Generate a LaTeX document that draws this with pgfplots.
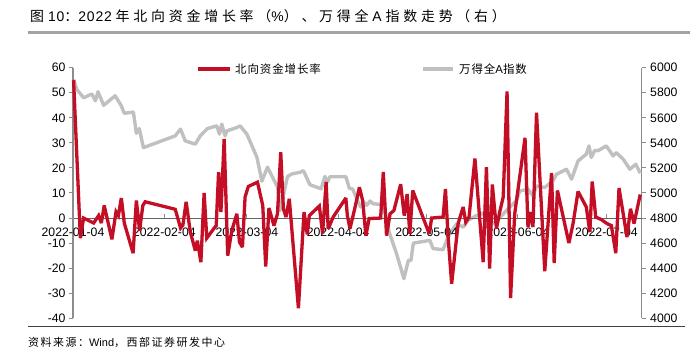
\documentclass[border=0pt]{standalone}
\usepackage{fontspec}
\setmainfont{Liberation Sans}
\newfontfamily\cjk{Noto Sans CJK SC}
\newfontfamily\cjkS[LetterSpace=8]{Noto Sans CJK SC}
\newfontfamily\cjkT[LetterSpace=27]{Noto Sans CJK SC}
\newfontfamily\cjkB[LetterSpace=14]{Noto Sans CJK SC}
\newfontfamily\latS[LetterSpace=6]{Liberation Sans}
\usepackage{pgfplots}
\pgfplotsset{compat=1.18}
\definecolor{nred}{RGB}{196,14,38}
\definecolor{ngrey}{RGB}{192,192,192}
\definecolor{axgrey}{RGB}{140,140,140}
\definecolor{zgrey}{RGB}{100,100,100}

\pgfplotstableread{
d v
0.2 55
2.5 -8
3.6 0
7.0 -2
8.7 1
9.6 -2
10.6 5
13.2 -8.5
14.6 2.5
15.4 1
16.4 8
17.4 -2
20.4 -14
21.5 7
22.6 -5
23.7 5
24.5 6.5
34.7 3.5
36.5 -4
37.3 -2.8
38.4 6.5
39.8 -5.5
41.5 -13
42.2 -9
43.4 -17.6
44.5 10
45.4 -8
47.6 -4.5
48.6 -3
49.4 18.3
50.2 2.4
51.3 31.6
52.5 -15
53.9 -5
55.6 1.7
56.5 -9.6
57.5 -11.6
58.4 8.4
59.5 12.6
62.6 14.3
64.4 5
65.4 -19.3
66.5 4
68.2 -3
69.4 1.7
70.5 26.3
71.4 3.7
72.3 0.4
73.4 7.7
76.5 -36
78.4 2.4
79.5 -6.5
80.2 1
83.6 4.8
84.7 -6.2
85.9 14.4
86.6 -4.3
88.3 0.4
92.6 8
93.1 1
94.0 -4.2
95.7 4.2
97.2 12.3
98.3 7
99.4 -7
100.5 -0.2
104.4 0
105.3 18.4
106.4 -7
107.6 1.7
108.9 3
111.2 13.5
112.4 1
113.4 9.6
114.3 -6.3
115.3 11
120.9 -6.3
121.7 0
125.6 0.4
126.4 11.6
127.3 -7.6
128.5 -26.2
130.7 -2.2
132.4 4.4
133.3 -1.6
134.4 0.4
136.4 23.8
137.8 3
139.2 -17.6
140.3 20.3
141.4 -20.2
142.3 13.4
143.7 -4.2
144.8 2.4
146.0 8.4
147.3 50.5
148.5 -31.9
149.9 1.7
153.4 32
154.4 -3.6
155.4 2.4
156.1 -3.6
157.3 42
160.1 -21.2
162.4 18
163.3 -18
164.4 11
168.3 -10
169.7 -2.2
171.4 10.6
174.2 4.4
175.4 -5.6
176.2 14.6
177.4 0.4
179.3 -0.6
181.2 -2.2
182.7 -3
184.2 -14
185.3 12
188.0 -7.6
189.2 3.7
190.4 -2.2
192.5 9.4
}\northbound

\pgfplotstableread{
d idx
0.2 5906
1.3 5826
3.6 5760
6.4 5790
7.6 5736
8.5 5808
10.4 5700
14.3 5776
16.3 5700
17.4 5636
20.5 5646
21.5 5476
22.5 5514
23.9 5362
34.7 5456
36.5 5510
38.1 5416
41.5 5390
43.2 5456
45.6 5514
48.8 5536
49.7 5470
50.5 5550
51.6 5456
52.2 5496
55.6 5522
56.7 5536
59.0 5470
62.4 5286
64.1 5094
66.0 5206
69.4 5048
70.3 4860
72.8 5132
74.3 5152
77.1 5166
78.2 5178
80.4 5066
84.2 5034
85.5 5132
86.3 5086
87.2 5130
92.6 5130
93.8 5036
94.9 5032
96.3 4954
97.6 4888
98.7 4928
99.7 4902
100.8 4936
101.9 4914
104.7 4908
105.9 4848
107.3 4688
109.8 4516
112.3 4316
113.8 4462
114.7 4462
115.5 4600
121.1 4622
122.2 4556
125.6 4548
127.3 4648
130.2 4756
132.4 4728
134.1 4782
136.4 4814
138.1 4830
139.4 4840
140.5 4728
143.7 4776
147.1 4860
150.5 4940
151.6 5016
154.4 5030
156.1 4976
157.3 5056
160.1 5044
162.9 5098
164.1 5150
167.5 5190
169.2 5110
171.4 5256
174.2 5310
175.1 5376
175.9 5284
177.0 5338
178.2 5338
181.0 5376
183.3 5296
184.4 5322
186.7 5270
189.0 5190
191.0 5230
192.5 5158
}\windA

\begin{document}
\begin{tikzpicture}
\useasboundingbox (0bp,0bp) rectangle (698bp,355bp);
% title
\node[anchor=west, inner sep=0, font=\fontsize{14}{16}\selectfont] at (30bp,338.3bp)
  {{\cjkT 图} {\latS 10}{\cjkT ：}{\latS 2022} {\cjkT 年北向资金增长率（}{\latS\%}{\cjkT ）、万得全} {\latS A} {\cjkT 指数走势（右）}};
\draw[line width=2.6bp, color=ngrey!85!black] (28bp,322.7bp) -- (690bp,322.7bp);
% source
\draw[line width=1.2bp, color=black!75] (28bp,28.3bp) -- (685bp,28.3bp);
\node[anchor=west, inner sep=0, font=\fontsize{11}{13}\selectfont] at (28bp,12.3bp)
  {{\cjkB 资料来源：}Wind{\cjkB ，西部证券研发中心}};

% right axis: index
\begin{axis}[
  at={(73bp,36.7bp)}, anchor=south west, scale only axis,
  width=568.7bp, height=250.6bp,
  xmin=0, xmax=193, ymin=4000, ymax=6000,
  axis x line=none, axis y line*=right,
  ytick={4000,4200,...,6000},
  y axis line style={color=axgrey, line width=1.1bp},
  y tick style={color=axgrey, line width=1bp},
  tick align=outside, major tick length=4bp,
  yticklabel style={font=\fontsize{12.3}{14}\selectfont, xshift=1bp},
  /pgf/number format/assume math mode=true,
  /pgf/number format/set thousands separator={},
  clip=false,
]
\addplot[color=ngrey, line width=3.4bp, line join=round] table[x=d, y=idx] {\windA};
\end{axis}

% left axis: growth
\begin{axis}[
  at={(73bp,36.7bp)}, anchor=south west, scale only axis,
  width=568.7bp, height=250.6bp,
  xmin=0, xmax=193, ymin=-40, ymax=60,
  axis y line*=left, axis x line*=middle,
  hide obscured x ticks=false,
  ytick={-40,-30,...,60},
  xtick={0,31,59,90,120,151,181},
  xticklabels={2022-01-04,2022-02-04,2022-03-04,2022-04-04,2022-05-04,2022-06-04,2022-07-04},
  y axis line style={color=axgrey, line width=1.1bp},
  x axis line style={color=zgrey, line width=1.1bp},
  y tick style={color=axgrey, line width=1bp},
  x tick style={color=axgrey, line width=1bp},
  ytick align=outside, xtick align=inside, major tick length=4bp,
  yticklabel style={font=\fontsize{12.3}{14}\selectfont},
  xticklabel style={font=\fontsize{12.3}{14}\selectfont, yshift=-6bp},
  /pgf/number format/assume math mode=true,
  clip=false,
]
\addplot[color=nred, line width=3.3bp, line join=miter, miter limit=3] table[x=d, y=v] {\northbound};
\end{axis}

% legend
\draw[color=nred, line width=3.3bp] (198bp,286bp) -- (230bp,286bp);
\node[anchor=west, inner sep=0, font=\fontsize{11.5}{13}\selectfont\cjkS] at (235bp,286bp) {北向资金增长率};
\draw[color=ngrey, line width=3.4bp] (423bp,286bp) -- (453bp,286bp);
\node[anchor=west, inner sep=0, font=\fontsize{11.5}{13}\selectfont] at (459bp,286bp) {{\cjkS 万得全}A{\cjkS 指数}};
\end{tikzpicture}
\end{document}
